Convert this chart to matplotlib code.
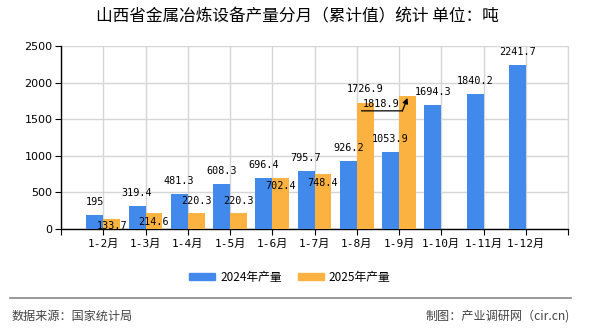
import matplotlib
matplotlib.use("Agg")
import matplotlib.pyplot as plt
from matplotlib.lines import Line2D
from matplotlib.patches import Patch
from matplotlib.transforms import offset_copy
import numpy as np

plt.rcParams['font.family'] = ['Noto Sans CJK SC', 'DejaVu Sans']

# --- data ---
months = ["1-2月", "1-3月", "1-4月", "1-5月", "1-6月", "1-7月",
          "1-8月", "1-9月", "1-10月", "1-11月", "1-12月"]
output_2024 = [195, 319.4, 481.3, 608.3, 696.4, 795.7, 926.2, 1053.9, 1694.3, 1840.2, 2241.7]
output_2025 = [133.7, 214.6, 220.3, 220.3, 702.4, 748.4, 1726.9, 1818.9]
series_names = ["2024年产量", "2025年产量"]

title = "山西省金属冶炼设备产量分月（累计值）统计 单位：吨"
source_text = "数据来源：国家统计局"
credit_text = "制图：产业调研网（cir.cn)"

# label offsets (points) for the 2025 labels, roughly as in the original
offsets_2025 = [-5, -6, 8.5, 8.5, -6, -6.5, 9.5, None]

blue = "#418AEC"
orange = "#FBB240"
num_font = ['DejaVu Sans Mono', 'Noto Sans CJK SC']

fig = plt.figure(figsize=(5.9, 3.3), dpi=100)
ax = fig.add_axes([61 / 590, 1 - 229 / 330, 507 / 590, 183 / 330])

x = np.arange(len(months))
w = 0.4
ax.bar(x[:len(output_2024)] - w / 2, output_2024, width=w, color=blue, zorder=3)
ax.bar(x[:len(output_2025)] + w / 2, output_2025, width=w, color=orange, zorder=3)

ax.set_xlim(-1, len(months))
ax.set_ylim(0, 2500)
ax.set_yticks(np.arange(0, 2501, 500))
ax.set_xticks(np.arange(-1, len(months) + 1))
ax.set_xticklabels([""] + months + [""], family=num_font, fontsize=8)
ax.tick_params(axis='y', labelsize=8, length=4, pad=2)
ax.tick_params(axis='x', length=4, pad=3)
for lab in ax.get_yticklabels():
    lab.set_family(['DejaVu Sans'])

ax.grid(True, color="#d6d6d6", lw=1, zorder=0)
ax.spines['top'].set_visible(False)
ax.spines['right'].set_color("#d6d6d6")
ax.spines['left'].set_linewidth(1)
ax.spines['bottom'].set_linewidth(1)

# value labels
for xi, v in zip(x, output_2024):
    ax.annotate(f"{v:g}", xy=(xi - w / 2, v), xytext=(0, 9.4), textcoords='offset points',
                ha='center', va='center', fontsize=7.3, family=num_font, zorder=5)

for xi, v, off in zip(x, output_2025, offsets_2025):
    if off is None:
        continue
    ax.annotate(f"{v:g}", xy=(xi + w / 2, v), xytext=(0, off), textcoords='offset points',
                ha='center', va='center', fontsize=7.3, family=num_font, zorder=5)

# last 2025 label pushed aside with a leader line
xl, vl = x[len(output_2025) - 1] + w / 2, output_2025[-1]
ax.annotate(f"{vl:g}", xy=(xl, vl), xytext=(-18.7, -5.8), textcoords='offset points',
            ha='center', va='center', fontsize=7.3, family=num_font, zorder=5)
ax.annotate("", xy=(xl, vl), xycoords=offset_copy(ax.transData, fig=fig, x=-3.6, y=-10.8, units='points'),
            xytext=(-29.5, 0), textcoords='offset points',
            arrowprops=dict(arrowstyle='-', lw=0.9, color='black', shrinkA=0, shrinkB=0), zorder=5)
ax.annotate("", xy=(xl, vl), xycoords=offset_copy(ax.transData, fig=fig, x=0, y=-1.5, units='points'),
            xytext=(-3.6, -9.3), textcoords='offset points',
            arrowprops=dict(arrowstyle='-|>', lw=0.9, color='black', shrinkA=0, shrinkB=0,
                            mutation_scale=8), zorder=5)

fig.text(297 / 590, 1 - 17 / 330, title, ha='center', va='center', fontsize=12)

handles = [Patch(color=blue), Patch(color=orange)]
fig.legend(handles, series_names, loc='center', bbox_to_anchor=(290 / 590, 1 - 277 / 330),
           ncol=2, frameon=False, fontsize=8.5, handlelength=2.2, handleheight=0.6,
           handletextpad=0.4, columnspacing=1.4)

fig.add_artist(Line2D([10 / 590, 571 / 590], [1 - 298 / 330] * 2, color="#888888", lw=1.2))
fig.text(12 / 590, 1 - 316 / 330, source_text, ha='left', va='center', fontsize=8.7, color="#444444")
fig.text(570 / 590, 1 - 316 / 330, credit_text, ha='right', va='center', fontsize=8.7, color="#444444")

fig.savefig("out.png", dpi=100)
